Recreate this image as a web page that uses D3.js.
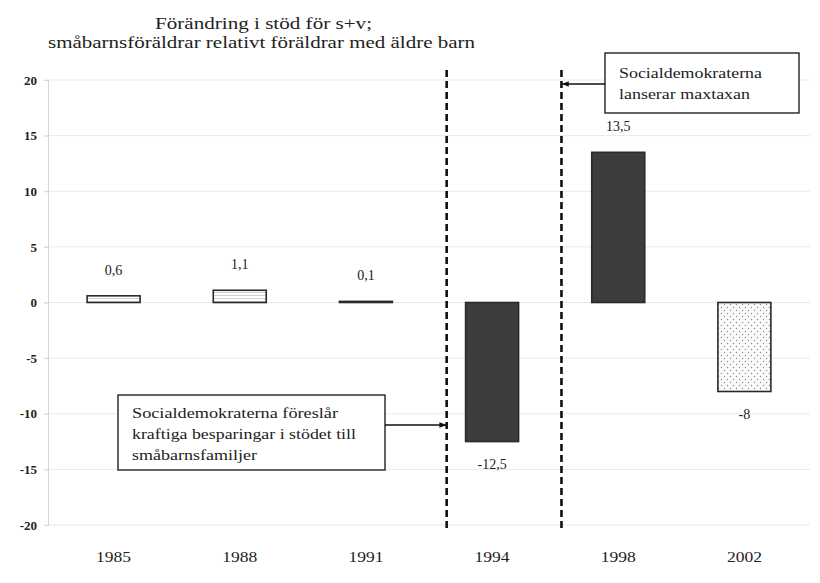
<!DOCTYPE html>
<html>
<head>
<meta charset="utf-8">
<script src="https://cdn.jsdelivr.net/npm/d3@7"></script>
<style>
  body { margin: 0; background: #fff; }
  svg { display: block; font-family: "Liberation Serif", "DejaVu Serif", serif; }
</style>
</head>
<body>
<div id="chart"></div>
<script>
const years = ["1985", "1988", "1991", "1994", "1998", "2002"];
const values = [0.6, 1.1, 0.1, -12.5, 13.5, -8];
const valueLabels = ["0,6", "1,1", "0,1", "-12,5", "13,5", "-8"];
const fills = ["hatch", "hatch", "hatch", "dark", "dark", "dots"];
const yTicks = [20, 15, 10, 5, 0, -5, -10, -15, -20];
const titleLines = ["Förändring i stöd för s+v;", "småbarnsföräldrar relativt föräldrar med äldre barn"];
const titleWidths = [217, 427];

// dashed event lines: placed after a category, as a fraction of one step
const eventAfter = ["1991", "1994"];
const eventFrac = [0.64, 0.55];

const noteLower = ["Socialdemokraterna föreslår", "kraftiga besparingar i stödet till", "småbarnsfamiljer"];
const noteLowerWidths = [206, 224, 125];
const noteUpper = ["Socialdemokraterna", "lanserar maxtaxan"];
const noteUpperWidths = [143, 131];

const W = 820, H = 583;
const margin = { top: 80, right: 10, bottom: 58, left: 48 };

const svg = d3.select("#chart").append("svg")
    .attr("width", W)
    .attr("height", H);

const defs = svg.append("defs");

const hatch = defs.append("pattern")
    .attr("id", "hatch")
    .attr("patternUnits", "userSpaceOnUse")
    .attr("width", 6).attr("height", 3);
hatch.append("rect").attr("width", 6).attr("height", 3).attr("fill", "#fff");
hatch.append("line")
    .attr("x1", 0).attr("x2", 6).attr("y1", 1.5).attr("y2", 1.5)
    .attr("stroke", "#c4c4c4").attr("stroke-width", 0.8);

const dots = defs.append("pattern")
    .attr("id", "dots")
    .attr("patternUnits", "userSpaceOnUse")
    .attr("width", 6).attr("height", 6);
dots.append("rect").attr("width", 6).attr("height", 6).attr("fill", "#fafafa");
dots.append("circle").attr("cx", 1.5).attr("cy", 1.5).attr("r", 0.7).attr("fill", "#8a8a8a");
dots.append("circle").attr("cx", 4.5).attr("cy", 4.5).attr("r", 0.7).attr("fill", "#8a8a8a");

defs.append("marker")
    .attr("id", "arrow")
    .attr("viewBox", "0 0 10 10")
    .attr("refX", 9).attr("refY", 5)
    .attr("markerWidth", 7).attr("markerHeight", 7)
    .attr("markerUnits", "userSpaceOnUse")
    .attr("orient", "auto")
    .append("path")
    .attr("d", "M0,1 L10,5 L0,9 Z")
    .attr("fill", "#111");

const x = d3.scaleBand()
    .domain(years)
    .range([margin.left, W - margin.right])
    .paddingInner(0.58)
    .paddingOuter(0.31);

const y = d3.scaleLinear()
    .domain([-20, 20])
    .range([H - margin.bottom, margin.top]);

// title
svg.append("g").selectAll("text")
    .data(titleLines)
    .join("text")
    .attr("x", (d, i) => i === 0 ? 155 : 48)
    .attr("y", (d, i) => 29 + i * 19)
    .attr("textLength", (d, i) => titleWidths[i])
    .attr("lengthAdjust", "spacingAndGlyphs")
    .attr("fill", "#1e1e1e")
    .style("font-size", "16px")
    .text(d => d);

// grid lines
svg.append("g").selectAll("line")
    .data(yTicks)
    .join("line")
    .attr("x1", margin.left - 4)
    .attr("x2", W - margin.right)
    .attr("y1", d => y(d))
    .attr("y2", d => y(d))
    .attr("stroke", "#e9e9e9")
    .attr("stroke-width", 1);

// y axis
const yAxis = svg.append("g")
    .attr("transform", `translate(${margin.left},0)`)
    .call(d3.axisLeft(y).tickValues(yTicks).tickSize(4).tickPadding(7).tickFormat(d => String(d)));
yAxis.select(".domain").attr("stroke", "#d6d6d6");
yAxis.selectAll(".tick line").attr("stroke", "#d6d6d6");
yAxis.selectAll("text")
    .attr("fill", "#222")
    .style("font-size", "13px")
    .style("font-weight", "bold")
    .style("font-family", "Liberation Serif, serif");

// x labels
svg.append("g").selectAll("text")
    .data(years)
    .join("text")
    .attr("x", d => x(d) + x.bandwidth() / 2)
    .attr("y", H - margin.bottom + 37)
    .attr("text-anchor", "middle")
    .attr("textLength", 35)
    .attr("lengthAdjust", "spacingAndGlyphs")
    .attr("fill", "#222")
    .style("font-size", "15px")
    .text(d => d);

// bars
const data = years.map((yr, i) => ({ year: yr, value: values[i], label: valueLabels[i], fill: fills[i] }));

svg.append("g").selectAll("rect")
    .data(data)
    .join("rect")
    .attr("x", d => x(d.year))
    .attr("width", x.bandwidth())
    .attr("y", d => y(Math.max(0, d.value)))
    .attr("height", d => Math.max(1, Math.abs(y(d.value) - y(0))))
    .attr("fill", d => d.fill === "dark" ? "#3d3d3d" : `url(#${d.fill})`)
    .attr("stroke", "#2a2a2a")
    .attr("stroke-width", 1.6);

svg.append("g").selectAll("text")
    .data(data)
    .join("text")
    .attr("x", d => x(d.year) + x.bandwidth() / 2)
    .attr("y", d => d.value >= 0 ? y(d.value) - 21 : y(d.value) + 27)
    .attr("text-anchor", "middle")
    .attr("fill", "#222")
    .style("font-size", "14px")
    .text(d => d.label);

// event lines
const eventX = eventAfter.map((c, i) => x(c) + x.bandwidth() / 2 + eventFrac[i] * x.step());
svg.append("g").selectAll("line")
    .data(eventX)
    .join("line")
    .attr("x1", d => d).attr("x2", d => d)
    .attr("y1", 70).attr("y2", 532)
    .attr("stroke", "#111")
    .attr("stroke-width", 2.6)
    .attr("stroke-dasharray", "7,4");

// lower note
const lower = svg.append("g");
lower.append("rect")
    .attr("x", 118).attr("y", 395)
    .attr("width", 267).attr("height", 75)
    .attr("fill", "#fff")
    .attr("stroke", "#222")
    .attr("stroke-width", 1.4);
lower.selectAll("text")
    .data(noteLower)
    .join("text")
    .attr("x", 132)
    .attr("y", (d, i) => 418 + i * 21)
    .attr("textLength", (d, i) => noteLowerWidths[i])
    .attr("lengthAdjust", "spacingAndGlyphs")
    .attr("fill", "#222")
    .style("font-size", "15px")
    .text(d => d);
lower.append("line")
    .attr("x1", 385).attr("x2", eventX[0] - 1)
    .attr("y1", 425).attr("y2", 425)
    .attr("stroke", "#111")
    .attr("stroke-width", 1.6)
    .attr("marker-end", "url(#arrow)");

// upper note
const upper = svg.append("g");
upper.append("rect")
    .attr("x", 605).attr("y", 53)
    .attr("width", 194).attr("height", 60)
    .attr("fill", "#fff")
    .attr("stroke", "#222")
    .attr("stroke-width", 1.4);
upper.selectAll("text")
    .data(noteUpper)
    .join("text")
    .attr("x", 619)
    .attr("y", (d, i) => 78 + i * 21)
    .attr("textLength", (d, i) => noteUpperWidths[i])
    .attr("lengthAdjust", "spacingAndGlyphs")
    .attr("fill", "#222")
    .style("font-size", "15px")
    .text(d => d);
upper.append("line")
    .attr("x1", 605).attr("x2", eventX[1] + 1)
    .attr("y1", 84).attr("y2", 84)
    .attr("stroke", "#111")
    .attr("stroke-width", 1.6)
    .attr("marker-end", "url(#arrow)");
</script>
</body>
</html>
